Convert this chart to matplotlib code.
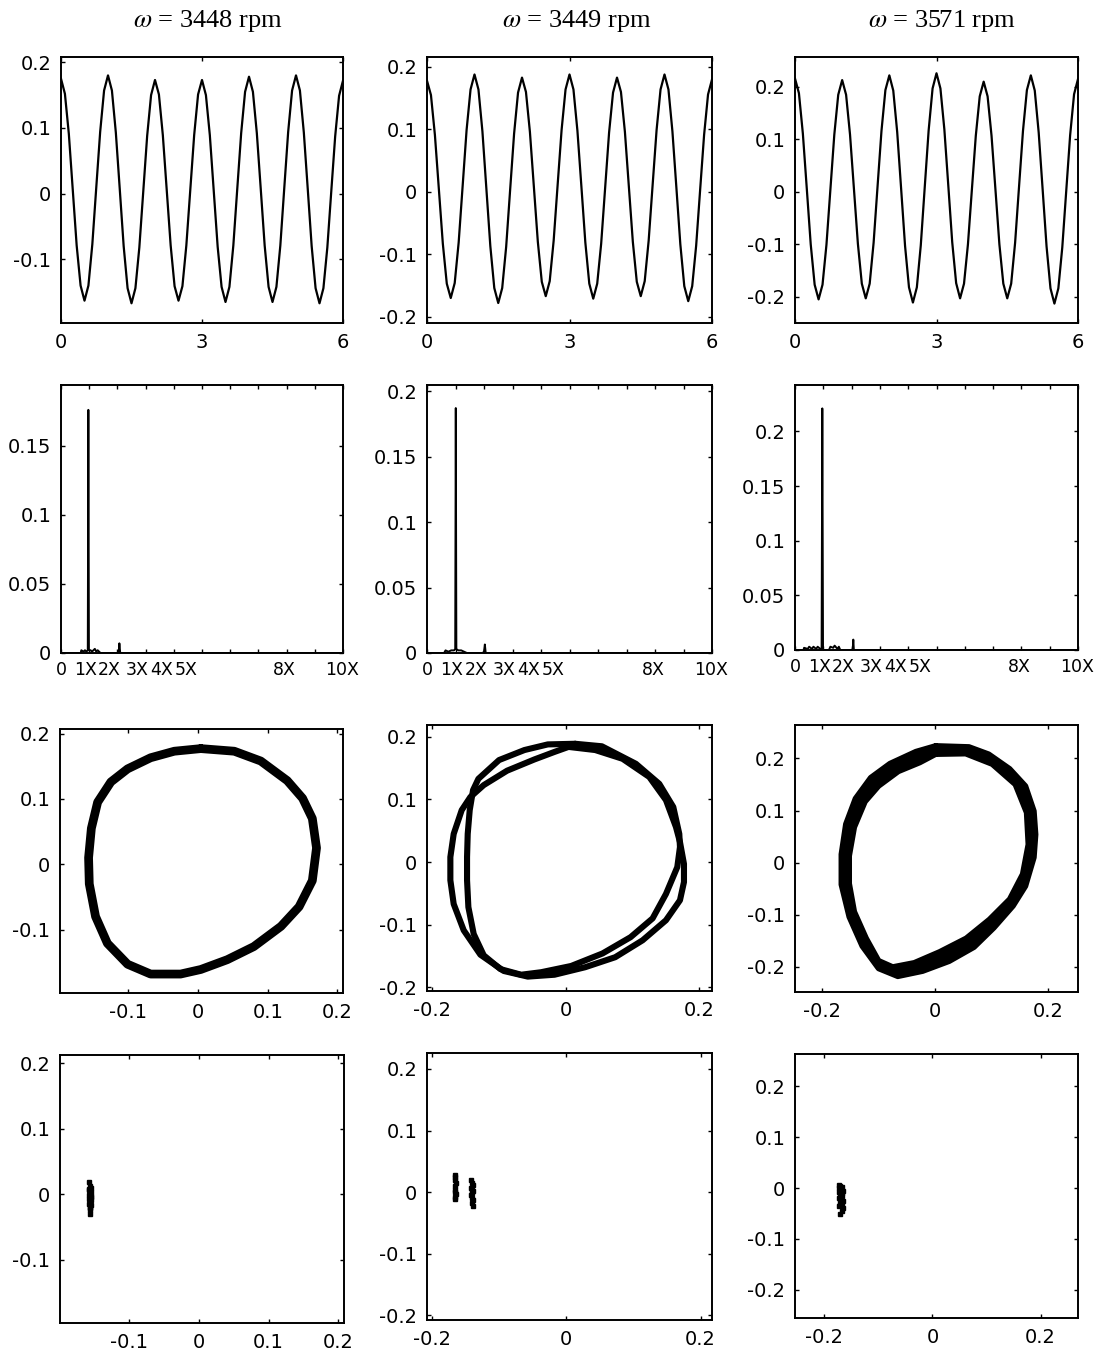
import numpy as np
import matplotlib
matplotlib.use("Agg")
import matplotlib.pyplot as plt
from matplotlib.ticker import FuncFormatter

plt.rcParams['font.family'] = ['DejaVu Sans']
plt.rcParams['axes.unicode_minus'] = False
plt.rcParams['mathtext.fontset'] = 'stix'

speeds = [3448, 3449, 3571]

# ---- time histories: 12 samples per revolution, 6 revolutions ----
samples_per_rev = 12
wave_3448 = [
    0.175, 0.152, 0.091, 0.006, -0.079, -0.140, -0.163, -0.140, -0.077, 0.009, 0.094, 0.157,
    0.180, 0.157, 0.093, 0.007, -0.080, -0.144, -0.167, -0.144, -0.082, 0.003, 0.088, 0.150,
    0.173, 0.151, 0.089, 0.005, -0.079, -0.141, -0.163, -0.141, -0.079, 0.005, 0.089, 0.151,
    0.173, 0.150, 0.089, 0.004, -0.081, -0.142, -0.165, -0.142, -0.079, 0.007, 0.092, 0.155,
    0.178, 0.155, 0.092, 0.007, -0.079, -0.142, -0.165, -0.142, -0.079, 0.008, 0.094, 0.157,
    0.180, 0.157, 0.093, 0.007, -0.080, -0.144, -0.167, -0.144, -0.082, 0.003, 0.087, 0.149,
    0.172]
wave_3449 = [
    0.178, 0.155, 0.091, 0.004, -0.083, -0.147, -0.170, -0.146, -0.081, 0.009, 0.099, 0.164,
    0.188, 0.164, 0.097, 0.005, -0.087, -0.154, -0.178, -0.154, -0.088, 0.003, 0.093, 0.159,
    0.183, 0.160, 0.096, 0.008, -0.080, -0.144, -0.167, -0.143, -0.078, 0.011, 0.099, 0.164,
    0.188, 0.164, 0.098, 0.009, -0.081, -0.147, -0.171, -0.147, -0.083, 0.006, 0.095, 0.159,
    0.183, 0.160, 0.096, 0.008, -0.080, -0.144, -0.167, -0.143, -0.078, 0.011, 0.099, 0.164,
    0.188, 0.164, 0.097, 0.007, -0.084, -0.151, -0.175, -0.151, -0.086, 0.003, 0.091, 0.156,
    0.180]
wave_3571 = [
    0.216, 0.188, 0.111, 0.006, -0.100, -0.177, -0.205, -0.177, -0.101, 0.004, 0.109, 0.185,
    0.213, 0.185, 0.109, 0.005, -0.099, -0.175, -0.203, -0.175, -0.097, 0.010, 0.116, 0.194,
    0.222, 0.193, 0.114, 0.006, -0.103, -0.182, -0.211, -0.182, -0.102, 0.008, 0.117, 0.197,
    0.226, 0.197, 0.119, 0.012, -0.096, -0.174, -0.203, -0.175, -0.100, 0.004, 0.107, 0.182,
    0.210, 0.182, 0.107, 0.004, -0.100, -0.175, -0.203, -0.175, -0.097, 0.010, 0.116, 0.194,
    0.222, 0.193, 0.113, 0.005, -0.104, -0.184, -0.213, -0.184, -0.106, 0.001, 0.108, 0.186,
    0.215]

# ---- amplitude spectra ----
freq_3448 = [0, 0.70, 0.72, 0.80, 0.85, 0.90, 0.95, 0.97, 0.99, 1.05, 1.10, 1.20, 1.25, 1.30, 1.40, 2.00, 2.05, 2.07, 2.10, 10]
amp_3448 = [0, 0, 0.002, 0.001, 0.002, 0.001, 0.002, 0.176, 0.002, 0.002, 0.001, 0.003, 0.001, 0.002, 0, 0, 0.001, 0.007, 0, 0]
freq_3449 = [0, 0.60, 0.65, 0.75, 0.85, 0.95, 0.99, 1.01, 1.03, 1.10, 1.20, 1.30, 1.40, 1.95, 2.00, 2.03, 2.06, 10]
amp_3449 = [0, 0, 0.002, 0.001, 0.002, 0.002, 0.003, 0.187, 0.003, 0.002, 0.002, 0.001, 0, 0, 0.001, 0.0065, 0, 0]
freq_3571 = [0, 0.30, 0.32, 0.45, 0.50, 0.60, 0.65, 0.75, 0.80, 0.94, 0.965, 0.99, 1.20, 1.25, 1.35, 1.40, 1.50, 1.55, 1.60, 2.00, 2.04, 2.06, 2.08, 10]
amp_3571 = [0, 0, 0.002, 0.001, 0.003, 0.001, 0.003, 0.001, 0.003, 0, 0.221, 0, 0, 0.003, 0.002, 0.004, 0.001, 0.003, 0, 0, 0.001, 0.0095, 0, 0]
order_labels = ['0', '1X', '2X', '3X', '4X', '5X', '8X', '10X']
order_label_pos = [0.0, 0.87, 1.72, 2.70, 3.55, 4.42, 7.93, 9.95]

# ---- orbits (x, y) ----
orbit_3448_x = [0.004, 0.052, 0.090, 0.128, 0.150, 0.164, 0.170, 0.164, 0.145, 0.119, 0.080, 0.042, 0.004,
                -0.025, -0.068, -0.101, -0.130, -0.147, -0.156, -0.157, -0.153, -0.144, -0.125, -0.101, -0.068, -0.034]
orbit_3448_y = [0.177, 0.173, 0.158, 0.128, 0.101, 0.070, 0.025, -0.025, -0.065, -0.095, -0.126, -0.146, -0.161,
                -0.168, -0.168, -0.153, -0.121, -0.080, -0.030, 0.010, 0.055, 0.095, 0.126, 0.146, 0.163, 0.173]

orbit_3449a_x = [0.004, 0.044, 0.085, 0.125, 0.150, 0.165, 0.171, 0.177, 0.177, 0.171, 0.150, 0.115, 0.074, 0.029,
                 -0.017, -0.057, -0.093, -0.128, -0.153, -0.168, -0.173, -0.173, -0.168, -0.156, -0.143, -0.123, -0.088, -0.047, -0.017]
orbit_3449a_y = [0.184, 0.179, 0.165, 0.136, 0.099, 0.056, 0.032, -0.003, -0.032, -0.061, -0.093, -0.125, -0.152, -0.168,
                 -0.180, -0.183, -0.174, -0.148, -0.109, -0.067, -0.029, 0.008, 0.045, 0.083, 0.104, 0.123, 0.146, 0.164, 0.176]
orbit_3449b_x = [0.014, 0.054, 0.105, 0.140, 0.161, 0.170, 0.171, 0.167, 0.150, 0.130, 0.097, 0.055, 0.008, -0.037,
                 -0.067, -0.098, -0.123, -0.138, -0.146, -0.148, -0.148, -0.147, -0.144, -0.139, -0.131, -0.100, -0.062, -0.027]
orbit_3449b_y = [0.189, 0.185, 0.157, 0.125, 0.088, 0.045, 0.024, -0.008, -0.051, -0.090, -0.120, -0.146, -0.166, -0.176,
                 -0.180, -0.171, -0.149, -0.115, -0.072, -0.029, 0.008, 0.045, 0.083, 0.115, 0.133, 0.163, 0.179, 0.188]

# outer and inner edges of the 3571 rpm orbit band
orbit_3571a_x = [0.001, 0.060, 0.095, 0.132, 0.160, 0.175, 0.178, 0.175, 0.160, 0.138, 0.104, 0.069, 0.025, -0.022,
                 -0.066, -0.100, -0.129, -0.152, -0.166, -0.166, -0.158, -0.141, -0.114, -0.080, -0.034]
orbit_3571a_y = [0.224, 0.222, 0.208, 0.180, 0.147, 0.099, 0.054, 0.010, -0.045, -0.083, -0.125, -0.162, -0.189, -0.208,
                 -0.218, -0.203, -0.160, -0.104, -0.042, 0.016, 0.074, 0.123, 0.163, 0.190, 0.213]
orbit_3571b_x = [0.001, 0.054, 0.101, 0.142, 0.162, 0.165, 0.155, 0.132, 0.096, 0.055, 0.008, -0.037, -0.075,
                 -0.100, -0.122, -0.143, -0.152, -0.152, -0.143, -0.124, -0.100, -0.065, -0.027]
orbit_3571b_y = [0.208, 0.209, 0.189, 0.150, 0.096, 0.035, -0.022, -0.070, -0.109, -0.145, -0.171, -0.192, -0.200,
                 -0.188, -0.145, -0.094, -0.040, 0.013, 0.068, 0.117, 0.147, 0.175, 0.192]

# ---- Poincare sections ----
poinc_3448_x = [-0.157, -0.156, -0.155, -0.157, -0.156, -0.155, -0.156, -0.157, -0.155, -0.156, -0.157,
                -0.155, -0.156, -0.156, -0.157, -0.155, -0.156, -0.156, -0.155, -0.157, -0.156, -0.156]
poinc_3448_y = [0.018, 0.013, 0.010, 0.008, 0.005, 0.003, 0.001, -0.001, -0.003, -0.005, -0.007,
                -0.009, -0.011, -0.013, -0.015, -0.017, -0.019, -0.021, -0.004, 0.006, -0.024, -0.030]
poinc_3449_x = [-0.165, -0.165, -0.166, -0.164, -0.165, -0.166, -0.165, -0.164, -0.165, -0.166,
                -0.141, -0.140, -0.139, -0.141, -0.140, -0.139, -0.140, -0.141, -0.140, -0.139, -0.140, -0.139]
poinc_3449_y = [0.028, 0.024, 0.020, 0.014, 0.010, 0.004, 0.000, -0.004, -0.008, -0.012,
                0.020, 0.015, 0.011, 0.007, 0.004, 0.001, -0.002, -0.005, -0.009, -0.013, -0.018, -0.023]
poinc_3571_x = [-0.173, -0.170, -0.167, -0.173, -0.169, -0.166, -0.172, -0.168, -0.171, -0.167,
                -0.172, -0.169, -0.166, -0.171, -0.168, -0.170, -0.166, -0.172, -0.168, -0.170]
poinc_3571_y = [0.006, 0.004, 0.002, 0.000, -0.002, -0.005, -0.008, -0.010, -0.013, -0.016,
                -0.019, -0.022, -0.025, -0.028, -0.031, -0.034, -0.040, -0.036, -0.045, -0.052]

W, H = 1104, 1355
fig = plt.figure(figsize=(W / 100, H / 100), dpi=100)
LABEL_SIZE = 14
ORDER_SIZE = 12.5


def add_box(left, top, right, bottom):
    return fig.add_axes([left / W, 1 - bottom / H, (right - left) / W, (bottom - top) / H])


fmt = FuncFormatter(lambda v, pos: f"{v:g}")


def style(ax, xticks, yticks, xlabels=True):
    ax.set_xticks(xticks)
    ax.set_yticks(yticks)
    ax.xaxis.set_major_formatter(fmt)
    ax.yaxis.set_major_formatter(fmt)
    ax.tick_params(direction='in', length=3, width=1, top=True, right=True,
                   labelsize=LABEL_SIZE, pad=7, colors='black')
    if not xlabels:
        ax.set_xticklabels([])
    for s in ax.spines.values():
        s.set_linewidth(1.4)


col_x = [(61, 343), (427, 712), (795, 1078)]

# Row 1: time histories
waves = [wave_3448, wave_3449, wave_3571]
wave_ylim = [(-0.197, 0.208), (-0.21, 0.216), (-0.25, 0.257)]
wave_yticks = [[-0.1, 0, 0.1, 0.2], [-0.2, -0.1, 0, 0.1, 0.2], [-0.2, -0.1, 0, 0.1, 0.2]]
for i in range(3):
    ax = add_box(col_x[i][0], 57, col_x[i][1], 323)
    y = np.array(waves[i])
    t = np.arange(len(y)) / samples_per_rev
    ax.plot(t, y, color='black', lw=1.6)
    ax.set_xlim(0, 6)
    ax.set_ylim(*wave_ylim[i])
    style(ax, [0, 3, 6], wave_yticks[i])

# column titles
title_x = [208, 577, 942]
for i in range(3):
    fig.text(title_x[i] / W, 1 - 27 / H, r'$\omega$' + f' = {speeds[i]} rpm',
             ha='center', va='baseline', fontsize=19, family='Liberation Serif')

# Row 2: spectra
freqs = [freq_3448, freq_3449, freq_3571]
amps = [amp_3448, amp_3449, amp_3571]
spec_ytop = [0.194, 0.2046, 0.2424]
spec_bottom = [653, 653, 650]
spec_yticks = [[0, 0.05, 0.1, 0.15], [0, 0.05, 0.1, 0.15, 0.2], [0, 0.05, 0.1, 0.15, 0.2]]
for i in range(3):
    ax = add_box(col_x[i][0], 385, col_x[i][1], spec_bottom[i])
    ax.plot(freqs[i], amps[i], color='black', lw=1.4)
    ax.set_xlim(0, 10)
    ax.set_ylim(0, spec_ytop[i])
    style(ax, list(range(11)), spec_yticks[i], xlabels=False)
    for lab, pos in zip(order_labels, order_label_pos):
        ax.annotate(lab, xy=(pos, 0), xycoords=('data', 'axes fraction'),
                    xytext=(0, -6), textcoords='offset points',
                    ha='center', va='top', fontsize=ORDER_SIZE)

# Row 3: orbits
orbit_boxes = [(60, 729, 343, 993), (427, 725, 712, 991), (795, 725, 1078, 992)]
orbit_xlim = [(-0.198, 0.208), (-0.208, 0.219), (-0.248, 0.253)]
orbit_ylim = [(-0.197, 0.207), (-0.206, 0.219), (-0.248, 0.264)]
orbit_xticks = [[-0.1, 0, 0.1, 0.2], [-0.2, 0, 0.2], [-0.2, 0, 0.2]]
orbit_yticks = [[-0.1, 0, 0.1, 0.2], [-0.2, -0.1, 0, 0.1, 0.2], [-0.2, -0.1, 0, 0.1, 0.2]]


def closed(seq):
    return list(seq) + [seq[0]]


axes_orbit = []
for i in range(3):
    ax = add_box(*orbit_boxes[i])
    ax.set_xlim(*orbit_xlim[i])
    ax.set_ylim(*orbit_ylim[i])
    style(ax, orbit_xticks[i], orbit_yticks[i])
    axes_orbit.append(ax)

line_kw = dict(color='black', solid_joinstyle='round', solid_capstyle='round')
axes_orbit[0].plot(closed(orbit_3448_x), closed(orbit_3448_y), lw=6.3, **line_kw)
axes_orbit[1].plot(closed(orbit_3449a_x), closed(orbit_3449a_y), lw=4.4, **line_kw)
axes_orbit[1].plot(closed(orbit_3449b_x), closed(orbit_3449b_y), lw=4.4, **line_kw)
# 3571 rpm: solid band between the outer and inner edge loops
ax = axes_orbit[2]
ax.fill(orbit_3571a_x, orbit_3571a_y, color='black', lw=0, zorder=1)
ax.fill(orbit_3571b_x, orbit_3571b_y, color='white', lw=0, zorder=1.1)
ax.plot(closed(orbit_3571a_x), closed(orbit_3571a_y), lw=4.0, zorder=2, **line_kw)
ax.plot(closed(orbit_3571b_x), closed(orbit_3571b_y), lw=4.0, zorder=2, **line_kw)

# Row 4: Poincare maps
poinc_boxes = [(60, 1055, 344, 1323), (427, 1053, 712, 1320), (795, 1054, 1078, 1318)]
poinc_xlim = [(-0.199, 0.208), (-0.207, 0.217), (-0.254, 0.269)]
poinc_ylim = [(-0.197, 0.213), (-0.208, 0.226), (-0.256, 0.264)]
poinc_data = [(poinc_3448_x, poinc_3448_y), (poinc_3449_x, poinc_3449_y), (poinc_3571_x, poinc_3571_y)]
for i in range(3):
    ax = add_box(*poinc_boxes[i])
    px, py = poinc_data[i]
    ax.plot(px, py, linestyle='none', marker='s', markersize=2.6, color='black')
    ax.set_xlim(*poinc_xlim[i])
    ax.set_ylim(*poinc_ylim[i])
    style(ax, orbit_xticks[i], orbit_yticks[i])

fig.savefig('out.png', dpi=100)
